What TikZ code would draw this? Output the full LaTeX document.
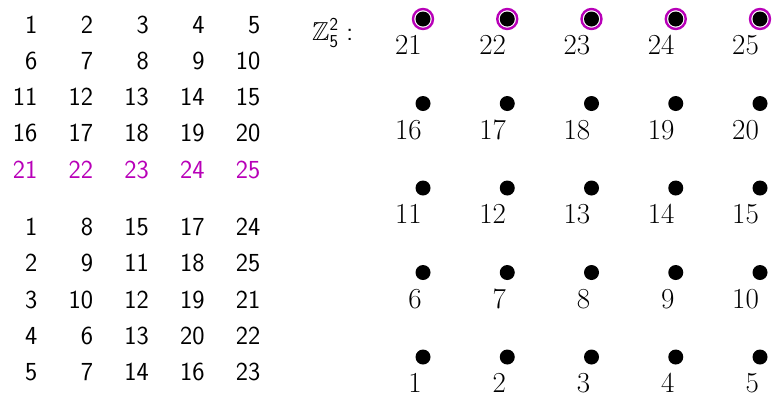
\documentclass[tikz,border=0pt]{standalone}
\usepackage{amssymb}
\usepackage{fontspec}
\definecolor{hl}{RGB}{184,0,184}
\begin{document}
\begin{tikzpicture}[x=1pt,y=-1pt,
  tab/.style={anchor=base east,inner sep=0pt,font=\fontsize{26}{26}\selectfont\sffamily},
  hltab/.style={tab,text=hl},
  pt/.style={circle,fill=black,inner sep=0pt,minimum size=15pt},
  ring/.style={circle,draw=hl,line width=2.4pt,inner sep=0pt,minimum size=20pt},
  lab/.style={anchor=base east,inner sep=0pt,font=\fontsize{29}{29}\selectfont\rmfamily}]
\useasboundingbox (0,0) rectangle (773,392);
% top table
\foreach \r in {0,...,3}{
  \foreach \c in {0,...,4}{
    \pgfmathtruncatemacro\v{5*\r+\c+1}
    \node[tab] (t\v) at ({37.5+55.75*\c},{33+36.25*\r}) {\v};
  }
}
\foreach \c in {0,...,4}{
  \pgfmathtruncatemacro\v{21+\c}
  \node[hltab] (t\v) at ({37.5+55.75*\c},{33+36.25*4}) {\v};
}
% bottom table
\foreach \row [count=\r from 0] in {{1,8,15,17,24},{2,9,11,18,25},{3,10,12,19,21},{4,6,13,20,22},{5,7,14,16,23}}{
  \foreach \v [count=\c from 0] in \row {
    \node[tab] (b\r\c) at ({37.5+55.75*\c},{235.5+36.25*\r}) {\v};
  }
}
% Z_5^2 label
\node[anchor=base west,inner sep=0pt,font=\fontsize{26}{26}\selectfont\sffamily] (zz) at (312,40) {$\mathbb{Z}^{\mathsf{2}}_{\mathsf{5}}$\hspace{0.3em}:};
% grid
\foreach \j in {0,...,4}{
  \foreach \i in {0,...,4}{
    \pgfmathtruncatemacro\v{5*(4-\j)+\i+1}
    \node[pt] (p\v) at ({423+84.25*\i},{19+84.5*\j}) {};
    \node[lab] (l\v) at ([xshift=-1pt,yshift=-35.5pt]p\v.center) {\v};
  }
}
\foreach \v in {21,...,25}{
  \node[ring] (r\v) at (p\v.center) {};
}
\end{tikzpicture}
\end{document}
